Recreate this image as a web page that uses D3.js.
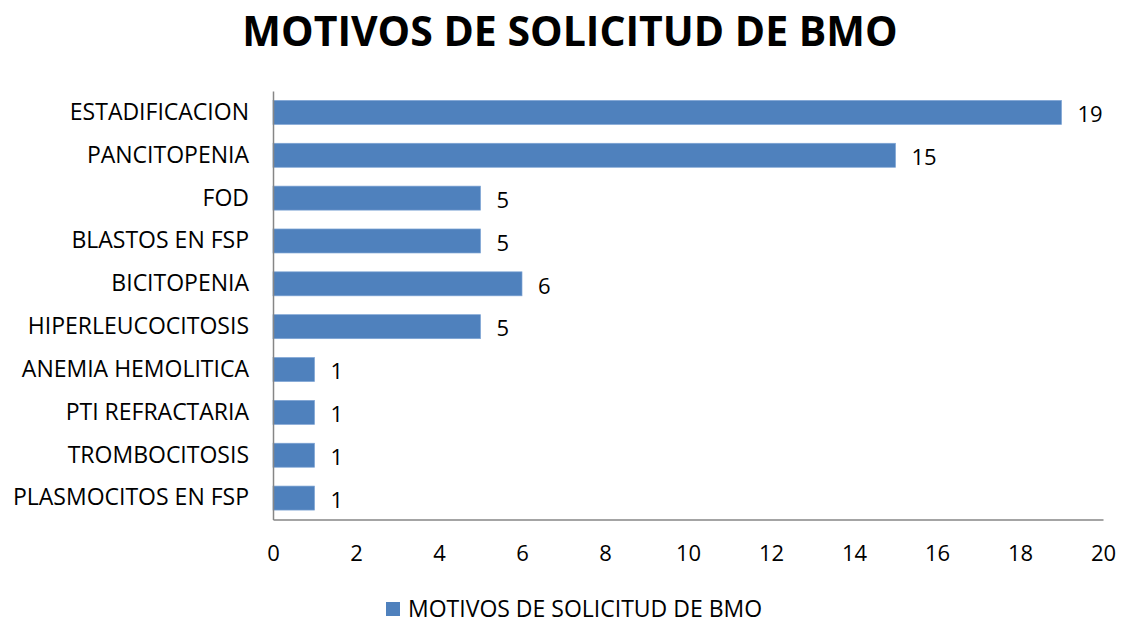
<!DOCTYPE html>
<html>
<head>
<meta charset="utf-8">
<script src="https://cdn.jsdelivr.net/npm/d3@7"></script>
<style>
  body { margin: 0; background: #fff; }
  text { font-family: "Open Sans", "Liberation Sans", sans-serif; fill: #000; }
</style>
</head>
<body>
<div id="chart"></div>
<script>
var categories = ["ESTADIFICACION", "PANCITOPENIA", "FOD", "BLASTOS EN FSP", "BICITOPENIA",
  "HIPERLEUCOCITOSIS", "ANEMIA HEMOLITICA", "PTI REFRACTARIA", "TROMBOCITOSIS", "PLASMOCITOS EN FSP"];
var values = [19, 15, 5, 5, 6, 5, 1, 1, 1, 1];
var xTicks = [0, 2, 4, 6, 8, 10, 12, 14, 16, 18, 20];
var seriesName = "MOTIVOS DE SOLICITUD DE BMO";
var chartTitle = "MOTIVOS DE SOLICITUD DE BMO";

var width = 1123, height = 623;
var plotLeft = 273, plotRight = 1103, plotTop = 91, plotBottom = 519.5;

var svg = d3.select("#chart").append("svg")
  .attr("width", width)
  .attr("height", height);

var x = d3.scaleLinear().domain([0, 20]).range([plotLeft, plotRight]);
var y = d3.scaleBand().domain(categories).range([plotTop, plotBottom]).paddingInner(0.44).paddingOuter(0.22);

// title
svg.append("text")
  .attr("x", 570).attr("y", 46)
  .attr("text-anchor", "middle")
  .attr("font-size", "41px")
  .attr("font-weight", "bold")
  .text(chartTitle);

// bars
svg.selectAll("rect.bar")
  .data(values)
  .enter()
  .append("rect")
  .attr("class", "bar")
  .attr("x", x(0))
  .attr("y", (d, i) => y(categories[i]))
  .attr("width", d => x(d) - x(0))
  .attr("height", y.bandwidth())
  .attr("fill", "#4F81BD")
  .attr("stroke", "#7EA4D4")
  .attr("stroke-width", 0.7);

// value labels
svg.selectAll("text.val")
  .data(values)
  .enter()
  .append("text")
  .attr("class", "val")
  .attr("x", d => x(d) + 16)
  .attr("y", (d, i) => y(categories[i]) + y.bandwidth() / 2 + 2)
  .attr("dy", "0.35em")
  .attr("font-size", "22px")
  .text(d => d);

// y axis
var yAxis = d3.axisLeft(y).tickSize(0).tickPadding(24);
var yg = svg.append("g")
  .attr("transform", "translate(" + plotLeft + ",0)")
  .call(yAxis);
yg.select(".domain").attr("stroke", "#868686").attr("stroke-width", 1.5);
yg.selectAll("text").attr("font-size", "23px").attr("font-family", "Open Sans, Liberation Sans, sans-serif");

// x axis
var xAxis = d3.axisBottom(x).tickValues(xTicks).tickSize(0).tickPadding(26);
var xg = svg.append("g")
  .attr("transform", "translate(0," + plotBottom + ")")
  .call(xAxis);
xg.select(".domain").attr("stroke", "#868686").attr("stroke-width", 1.5);
xg.selectAll("text").attr("font-size", "22px").attr("font-family", "Open Sans, Liberation Sans, sans-serif");

// legend
var legend = svg.append("g").attr("transform", "translate(386,602)");
legend.append("rect")
  .attr("width", 14).attr("height", 14)
  .attr("fill", "#4F81BD");
legend.append("text")
  .attr("x", 22).attr("y", 7)
  .attr("dy", "0.35em")
  .attr("font-size", "23px")
  .text(seriesName);
</script>
</body>
</html>
